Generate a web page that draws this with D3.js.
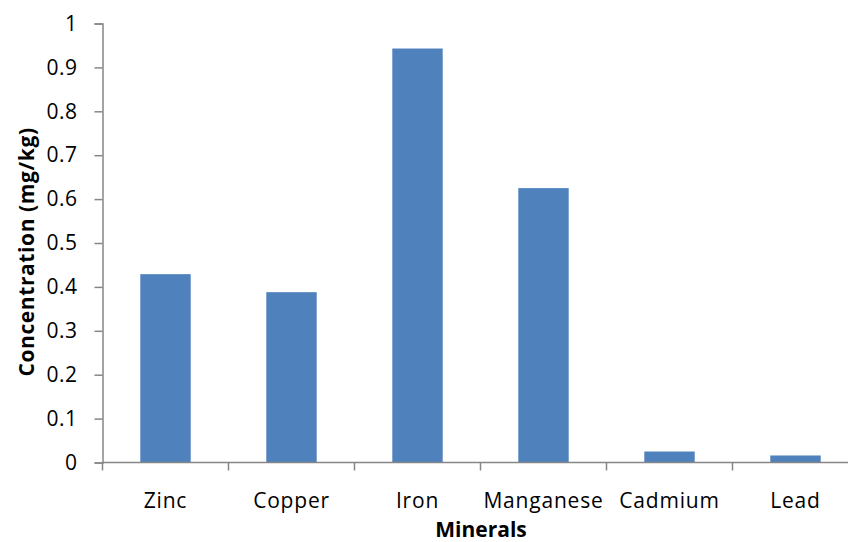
<!DOCTYPE html>
<html><head><meta charset="utf-8">
<script src="https://cdn.jsdelivr.net/npm/d3@7"></script>
<style>body{margin:0;background:#fff;} svg{display:block;}</style>
</head><body>
<svg id="c" width="848" height="542"></svg>
<script>
const categories = ["Zinc","Copper","Iron","Manganese","Cadmium","Lead"];
const values = [0.429, 0.388, 0.943, 0.625, 0.025, 0.016];
const yTicks = [0,0.1,0.2,0.3,0.4,0.5,0.6,0.7,0.8,0.9,1];
const xTitle = "Minerals";
const yTitle = "Concentration (mg/kg)";

(function(){
const svg = d3.select("#c");
const font = "'Open Sans', 'Liberation Sans', Arial, sans-serif";
const mLeft = 102.5, mRight = 858.5, mTop = 23.5, mBottom = 462.5;
const x = d3.scaleBand().domain(categories).range([mLeft, mRight]).paddingInner(0.6).paddingOuter(0.3);
const y = d3.scaleLinear().domain([0,1]).range([mBottom, mTop]);

svg.append("g").selectAll("rect").data(values).join("rect")
  .attr("x", (d,i)=>x(categories[i])).attr("width", x.bandwidth())
  .attr("y", d=>y(d)).attr("height", d=>mBottom-y(d))
  .attr("fill", "#4F81BD");

const axisColor = "#868686";
const ya = svg.append("g").attr("transform", `translate(${mLeft},0)`)
  .call(d3.axisLeft(y).tickValues(yTicks).tickFormat(d3.format("~g")).tickSize(8).tickPadding(17));
ya.select(".domain").attr("stroke", axisColor).attr("stroke-width", 1.5);
ya.selectAll(".tick line").attr("stroke", axisColor).attr("stroke-width", 1.5);
ya.selectAll(".tick text").attr("font-family", font).attr("font-size", 21)
  .attr("letter-spacing", 0.5).attr("fill", "#000");

const xb = d3.scalePoint().domain(d3.range(7)).range([mLeft, mRight]);
const xa = svg.append("g").attr("transform", `translate(0,${mBottom})`);
xa.append("line").attr("x1", mLeft).attr("x2", mRight).attr("y1",0).attr("y2",0)
  .attr("stroke", axisColor).attr("stroke-width", 1.5);
xa.selectAll("line.t").data(d3.range(7)).join("line").attr("class","t")
  .attr("x1", d=>xb(d)).attr("x2", d=>xb(d)).attr("y1",0).attr("y2",8)
  .attr("stroke", axisColor).attr("stroke-width", 1.5);
xa.selectAll("text").data(categories).join("text")
  .attr("x", d=>x(d)+x.bandwidth()/2).attr("y", 45.5)
  .attr("text-anchor","middle").attr("font-family", font).attr("font-size", 21)
  .attr("letter-spacing", 0.8).attr("fill","#000")
  .text(d=>d);

svg.append("text").attr("x", 481).attr("y", 537).attr("text-anchor","middle")
  .attr("font-family", font).attr("font-size", 21).attr("font-weight","bold").text(xTitle);
svg.append("text").attr("transform", "translate(34,252) rotate(-90)").attr("text-anchor","middle")
  .attr("font-family", font).attr("font-size", 21).attr("font-weight","bold")
  .attr("letter-spacing", 0.6).text(yTitle);
})();
</script>
</body></html>
